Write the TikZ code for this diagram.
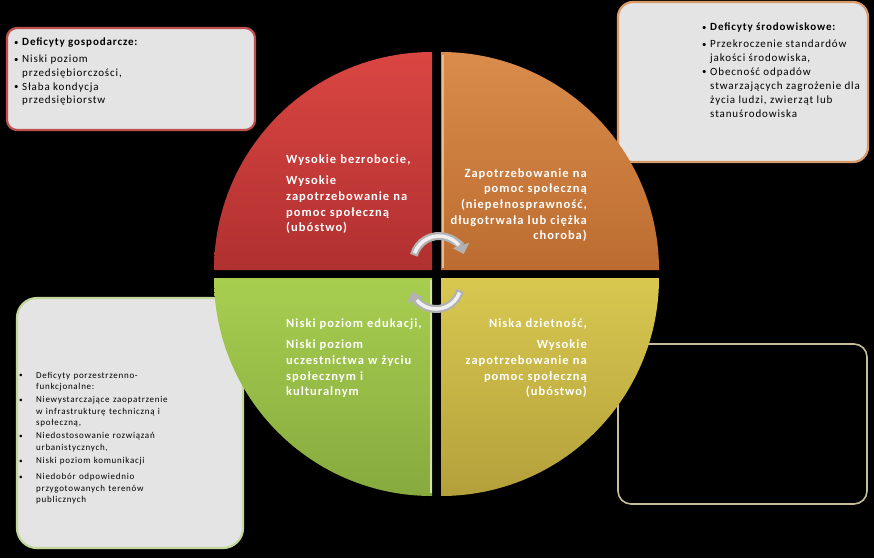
\documentclass[tikz,border=0pt]{standalone}
\usepackage{fontspec}
\setmainfont{Carlito}[LetterSpace=8,WordSpace=0.7]
\usetikzlibrary{arrows.meta}
\definecolor{redT}{HTML}{DA4642}
\definecolor{redB}{HTML}{B03030}
\definecolor{orT}{HTML}{D98C4B}
\definecolor{orB}{HTML}{BC6C30}
\definecolor{grT}{HTML}{A8CE50}
\definecolor{grB}{HTML}{86AA3E}
\definecolor{yeT}{HTML}{D8C850}
\definecolor{yeB}{HTML}{B4A03A}
\definecolor{boxgray}{HTML}{E4E4E4}
\definecolor{bdRed}{HTML}{C0504D}
\definecolor{bdOr}{HTML}{D99A68}
\definecolor{bdGr}{HTML}{C3D69B}
\definecolor{bdKh}{HTML}{C4BD97}
\newcommand\myitem[3]{\noindent\makebox[#1][l]{\raisebox{0.05em}{\scalebox{0.8}{\textbullet}}}\parbox[t]{#2}{\raggedright #3}\par}
\begin{document}
\begin{tikzpicture}[x=1pt,y=1pt,
  infobox/.style={line width=2.2pt, fill=boxgray},
  qtext/.style={text=white, inner sep=0pt, font=\bfseries\fontsize{12.5}{15.7}\selectfont},
  btext/.style={text=black, inner sep=0pt},
  band/.style={line width=8pt, draw=gray!60, -{Triangle[length=9pt,width=17pt]}},
  bandhi/.style={line width=3.5pt, draw=white!88!gray}]
\fill[black] (0,0) rectangle (874,558);
\useasboundingbox (0,0) rectangle (874,558);

% boxes
\draw[infobox, draw=bdRed, rounded corners=10pt] (7,530) rectangle (255,428);
\draw[infobox, draw=bdOr, rounded corners=15pt] (618,556) rectangle (868,396);
\draw[infobox, draw=bdGr, rounded corners=20pt] (17,260) rectangle (243,10);
\draw[line width=1.6pt, draw=bdKh, fill=black, rounded corners=13pt] (618,214) rectangle (867,54);

% quadrants
\shade[top color=redT, bottom color=redB] (432,288) -- (214,288) arc[start angle=180,end angle=90,radius=218] -- cycle;
\shade[top color=orT, bottom color=orB] (441,288) -- (441,506) arc[start angle=90,end angle=0,radius=218] -- cycle;
\shade[top color=grT, bottom color=grB] (432,280) -- (214,280) arc[start angle=180,end angle=270,radius=218] -- cycle;
\shade[top color=yeT, bottom color=yeB] (441,280) -- (659,280) arc[start angle=0,end angle=-90,radius=218] -- cycle;
\draw[orT!60!white, line width=2pt] (442.5,290) -- (442.5,503);
\draw[grT!55!white, line width=2pt] (430.5,278) -- (430.5,65);

% circular arrows
\draw[band] (439,296) ++(165:26) arc[start angle=165,end angle=18,radius=26];
\draw[bandhi] (439,296) ++(160:26) arc[start angle=160,end angle=40,radius=26];
\draw[band] (436,274) ++(-15:25) arc[start angle=-15,end angle=-162,radius=25];
\draw[bandhi] (436,274) ++(-20:25) arc[start angle=-20,end angle=-140,radius=25];

% quadrant texts
\node[qtext, anchor=base west, text width=142pt, align=left] (tRed) at (286,395)
  {Wysokie bezrobocie,\\[6pt]Wysokie\\zapotrzebowanie na\\pomoc społeczną\\(ubóstwo)};
\node[qtext, anchor=base east, text width=165pt, align=right] (tOr) at (587,381)
  {Zapotrzebowanie na\\pomoc społeczną\\(niepełnosprawność,\\długotrwała lub ciężka\\choroba)};
\node[qtext, anchor=base west, text width=145pt, align=left] (tGr) at (286,231)
  {Niski poziom edukacji,\\[6pt]Niski poziom\\uczestnictwa w życiu\\społecznym i\\kulturalnym};
\node[qtext, anchor=base east, text width=165pt, align=right] (tYe) at (587,231)
  {Niska dzietność,\\[6pt]Wysokie\\zapotrzebowanie na\\pomoc społeczną\\(ubóstwo)};

% box texts
\node[btext, anchor=base west, text width=230pt] (tGosp) at (14,512)
  {\fontsize{11}{13.5}\selectfont\parskip=3.5pt
   \myitem{8pt}{200pt}{\textbf{Deficyty gospodarcze:}}
   \myitem{8pt}{200pt}{Niski poziom\\przedsiębiorczości,}
   \myitem{8pt}{200pt}{Słaba kondycja\\przedsiębiorstw}};
\node[btext, anchor=base west, text width=168pt] (tSrod) at (702,527)
  {\fontsize{11}{14}\selectfont\parskip=3pt
   \myitem{8pt}{160pt}{\textbf{Deficyty środowiskowe:}}
   \myitem{8pt}{160pt}{Przekroczenie standardów\\jakości środowiska,}
   \myitem{8pt}{160pt}{Obecność odpadów\\stwarzających zagrożenie dla\\życia ludzi, zwierząt lub\\stanuśrodowiska}};
\node[btext, anchor=base west, text width=215pt] (tPrz) at (19,180)
  {\fontsize{9}{11.5}\selectfont\parskip=4.5pt
   \myitem{17pt}{190pt}{Deficyty porzestrzenno-\\funkcjonalne:}
   \myitem{17pt}{190pt}{Niewystarczające zaopatrzenie\\w infrastrukturę techniczną i\\społeczną,}
   \myitem{17pt}{190pt}{Niedostosowanie rozwiązań\\urbanistycznych,}
   \myitem{17pt}{190pt}{Niski poziom komunikacji}
   \myitem{17pt}{190pt}{Niedobór odpowiednio\\przygotowanych terenów\\publicznych}};
\end{tikzpicture}
\end{document}
